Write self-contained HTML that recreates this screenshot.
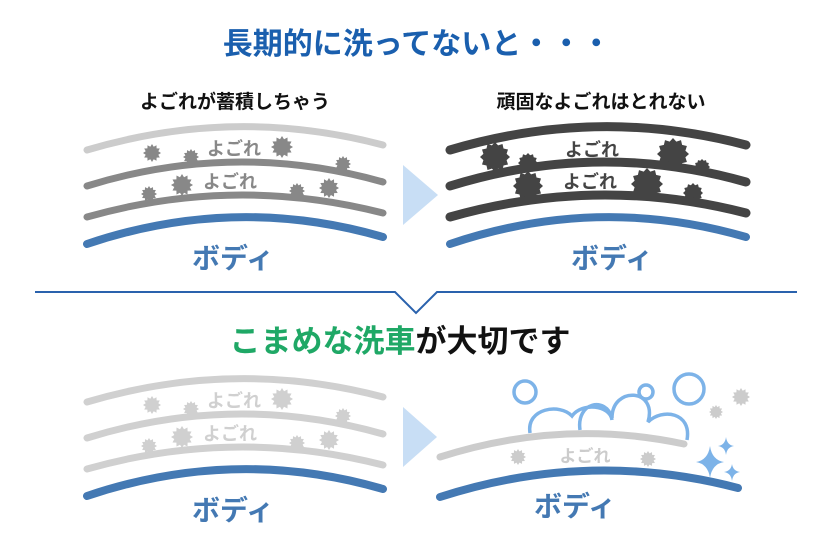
<!DOCTYPE html>
<html><head><meta charset="utf-8"><style>
body{margin:0;background:#fff;}
svg{display:block}
text{font-family:"Liberation Sans","Noto Sans CJK JP",sans-serif;font-weight:bold;}
</style></head><body>
<svg id="s" width="832" height="548" viewBox="0 0 832 548" xmlns="http://www.w3.org/2000/svg">
<text x="417" y="54" font-size="30" fill="#1a5fae" text-anchor="middle">長期的に洗ってないと・・・</text>
<text x="235" y="108" font-size="19" fill="#111" text-anchor="middle">よごれが蓄積しちゃう</text>
<text x="601" y="108" font-size="19" fill="#111" text-anchor="middle">頑固なよごれはとれない</text>

<g id="g1"></g>
<polygon points="403,165 438,195 403,225" fill="#c8def5"/>
<polygon points="403,407 437,437 403,467" fill="#c8def5"/>

<polyline points="35,292 395,292 416,313 437,292 797,292" fill="none" stroke="#2a62ad" stroke-width="2"/>
<text x="400" y="352" font-size="31" text-anchor="middle"><tspan fill="#1fa866">こまめな洗車</tspan><tspan fill="#111">が大切です</tspan></text>

<!-- bottom right -->
<g fill="none" stroke="#7db3e8" stroke-width="3.5">
<circle cx="525" cy="392" r="11"/>
<circle cx="646" cy="392" r="7"/>
<circle cx="689" cy="389" r="15"/>
<path d="M530,433 C526,408 560,403 572,416 C582,402 610,405 612,420"/>
<path d="M580,430 C576,402 606,396 612,418 C612,386 658,388 648,422 C662,408 692,412 687,440"/>
</g>
<path d="M440,457 Q562,418 684,444" fill="none" stroke="#cccccc" stroke-width="7" stroke-linecap="round"/>
<path d="M440,497 Q589,449 738,488" fill="none" stroke="#4479b3" stroke-width="8" stroke-linecap="round"/>
<text x="585" y="462" font-size="17" fill="#cccccc" text-anchor="middle">よごれ</text>
<text x="575" y="516" font-size="28" fill="#4479b3" text-anchor="middle">ボディ</text>
<g fill="#7db3e8">
<path d="M710,446 Q712,460 724,462 Q712,464 710,478 Q708,464 696,462 Q708,460 710,446Z"/>
<path d="M726,437 Q727,445 734,446 Q727,447 726,455 Q725,447 718,446 Q725,445 726,437Z"/>
<path d="M732,464 Q733,471 740,472 Q733,473 732,481 Q731,473 724,472 Q731,471 732,464Z"/>
</g>
</svg>
<script>
var s=document.getElementById('g1'),h='';
function arc(x1,y1,cy,x2,y2,c,w,dy,dx){dx=dx||0;return '<path d="M'+(x1+dx)+','+(y1+dy)+' Q'+((x1+x2)/2+dx)+','+(cy+dy)+' '+(x2+dx)+','+(y2+dy)+'" fill="none" stroke="'+c+'" stroke-width="'+w+'" stroke-linecap="round"/>';}
function gear(x,y,r,c,k){k=k||0.72;var p=[];for(var i=0;i<24;i++){var a=i*Math.PI/12,rr=i%2?r*k:r;p.push((x+rr*Math.cos(a)).toFixed(1)+','+(y+rr*Math.sin(a)).toFixed(1));}return '<polygon points="'+p.join(' ')+'" fill="'+c+'"/>';}
function panel(dy,c1,c2,tc){
 var o='';
 [[152,153,9],[191,157,8],[282,147,11],[343,164,8],[149,194,8],[182,185,11],[297,191,8],[329,188,10]].forEach(function(g){o+=gear(g[0],g[1]+dy,g[2],c2);});
 o+=arc(87,150,106,383,145,c1,7,dy);
 o+=arc(87,186,140,383,182,c2,7,dy);
 o+=arc(87,217,175,383,213,c2,7,dy);
 o+=arc(87,244,194,383,237,'#4479b3',8,dy);
 o+='<text x="234" y="'+(155+dy)+'" font-size="18" fill="'+tc+'" text-anchor="middle">よごれ</text>';
 o+='<text x="230" y="'+(188+dy)+'" font-size="18" fill="'+tc+'" text-anchor="middle">よごれ</text>';
 o+='<text x="233" y="'+(268+dy)+'" font-size="28" fill="#4479b3" text-anchor="middle">ボディ</text>';
 return o;}
h+=panel(0,'#cccccc','#888888','#888888');
h+=panel(252,'#d0d0d0','#d0d0d0','#d0d0d0');
var d='#444444',o='';
[[495,157,15],[528,163,10],[673,154,16],[702,167,8],[528,186,15],[647,184,16],[693,193,10]].forEach(function(g){o+=gear(g[0],g[1],g[2],d,0.8);});
o+=arc(450,150,106,746,145,d,9,0);
o+=arc(450,186,140,746,182,d,9,0);
o+=arc(450,217,175,746,213,d,9,0);
o+=arc(450,244,194,746,237,'#4479b3',8,0);
o+='<text x="592" y="156" font-size="18" fill="#444" text-anchor="middle">よごれ</text>';
o+='<text x="590" y="188" font-size="18" fill="#444" text-anchor="middle">よごれ</text>';
o+='<text x="612" y="268" font-size="28" fill="#4479b3" text-anchor="middle">ボディ</text>';
h+=o;
h+=gear(518,457,8,'#cccccc')+gear(648,459,8,'#cccccc')+gear(716,412,7,'#cccccc')+gear(741,397,9,'#cccccc');
s.innerHTML=h;
</script>
</body></html>
